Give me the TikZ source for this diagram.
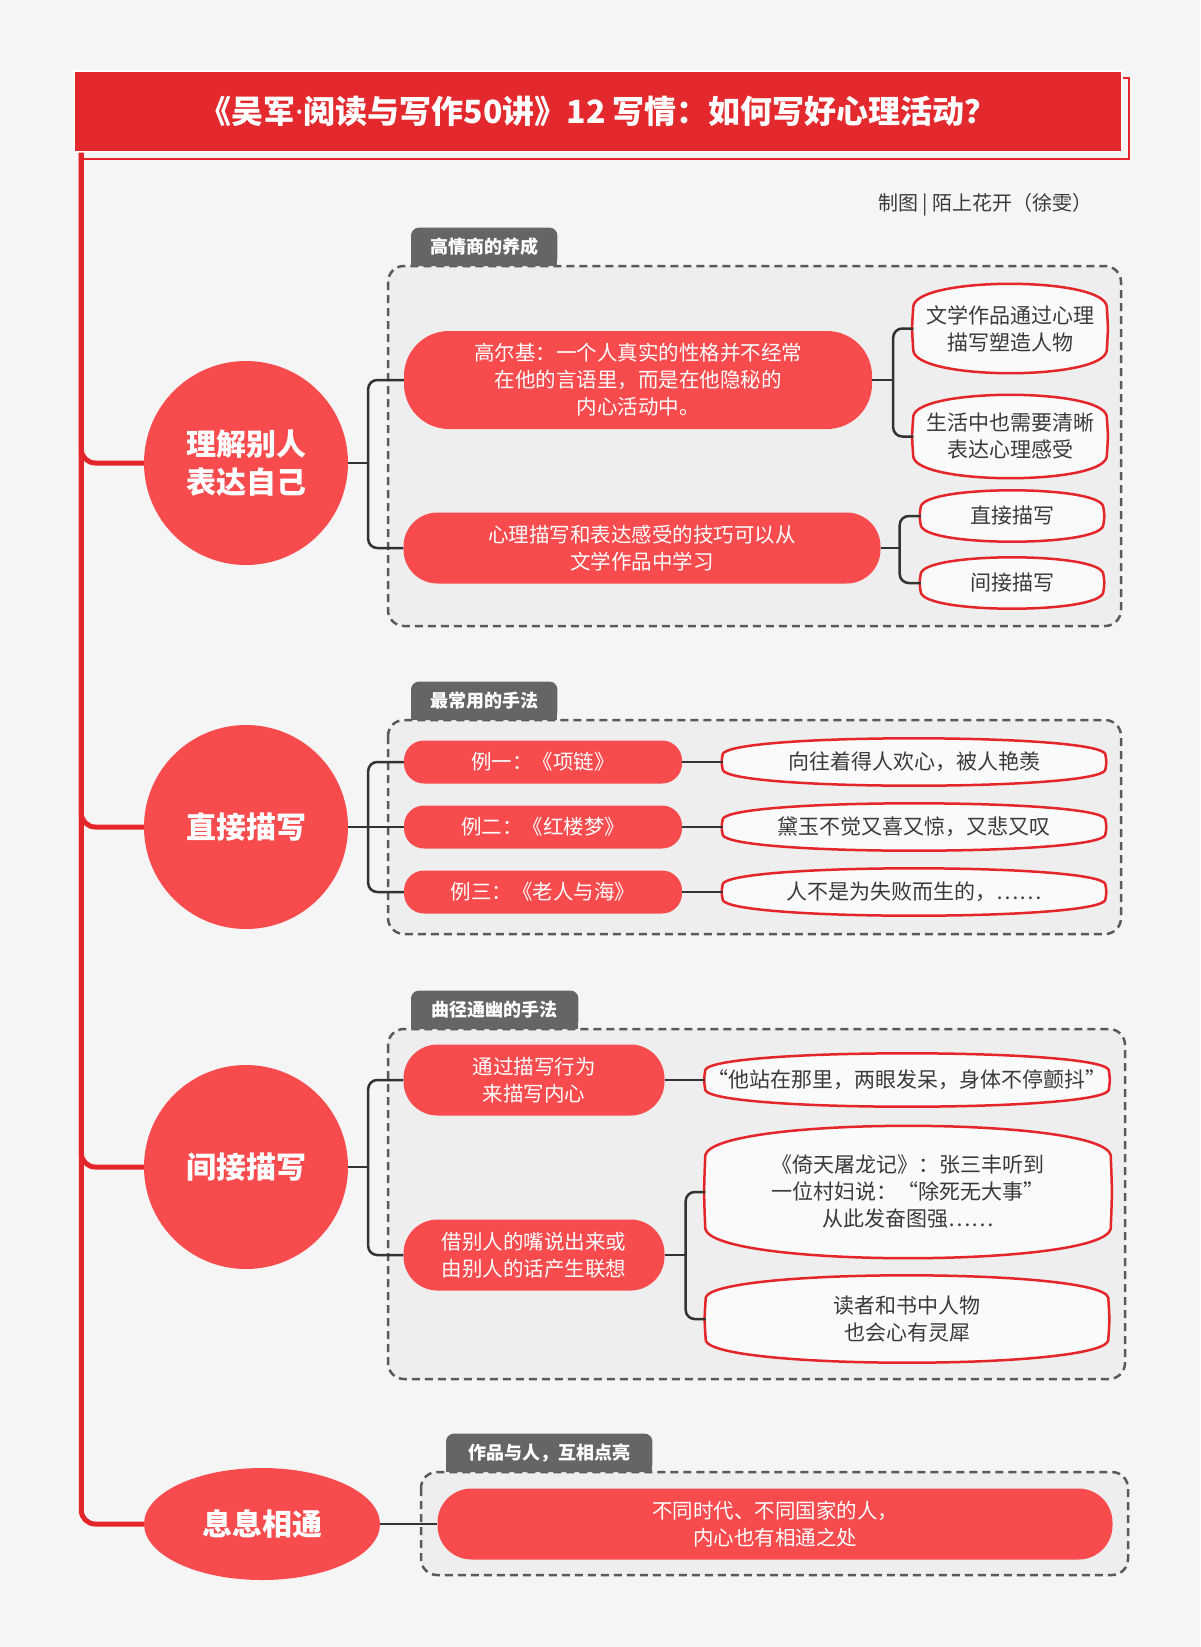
\documentclass[tikz,border=0pt]{standalone}
\usepackage{fontspec}
\setmainfont{Noto Sans CJK SC}
\newfontfamily\latinf{Noto Sans}
\usetikzlibrary{calc,shapes.geometric}
\definecolor{bgc}{HTML}{F5F5F5}
\definecolor{titlered}{HTML}{E3292D}
\definecolor{nodered}{HTML}{F84B4E}
\definecolor{linered}{HTML}{E4262B}
\definecolor{grpfill}{HTML}{EEEEEE}
\definecolor{grpline}{HTML}{5A5A5A}
\definecolor{tabfill}{HTML}{656565}
\definecolor{connc}{HTML}{333333}
\definecolor{txtc}{HTML}{3A3A3A}
\definecolor{leaffill}{HTML}{FAFAFA}
\pgfdeclarelayer{back}
\pgfdeclarelayer{mid}
\pgfsetlayers{back,mid,main}
\newcommand\fleaf{\fontsize{21}{27}\selectfont}
\newcommand\fred{\fontsize{20.5}{27}\selectfont}
\newcommand\fcirc{\fontsize{30}{38}\selectfont\bfseries}
\newcommand\ftab{\fontsize{18}{22}\selectfont\bfseries}
\newcommand\ftitle{\fontsize{32}{38}\selectfont\bfseries}
\tikzset{
  trunk/.style={draw=linered, line width=5, rounded corners=14},
  conn/.style={draw=connc, line width=2.5, rounded corners=9},
  circ/.style={circle, fill=nodered, text=white, font=\fcirc, align=center, minimum size=204, inner sep=0},
  rnode/.style={rectangle, fill=nodered, text=white, font=\fred, align=center, inner sep=0},
  leaf/.style={rectangle, text=txtc, font=\fleaf, align=center, inner sep=0},
  leafline/.style={draw=linered, fill=leaffill, line width=2.5, line join=round},
  grp/.style={draw=grpline, fill=grpfill, line width=2.5, dash pattern=on 8pt off 5pt, rounded corners=16},
  tabnode/.style={text=white, font=\ftab, minimum height=38, anchor=south west, inner sep=0}
}
\newcommand\leafshape[1]{%
\begin{pgfonlayer}{mid}
\path[leafline] let \p1=(#1.north west), \p2=(#1.south east),
  \n1={0.16*(\y1-\y2)}, \n3={0.025*(\x2-\x1)}, \n4={(0.16*(\y1-\y2)+8pt)/3} in
  (\x1,\y1-\n1-8pt)
  .. controls (\x1+\n3,\y1+\n4) and (\x2-\n3,\y1+\n4) .. (\x2,\y1-\n1-8pt)
  .. controls (\x2+1.5pt,{0.5*(\y1+\y2)}) .. (\x2,\y2+\n1+8pt)
  .. controls (\x2-\n3,\y2-\n4) and (\x1+\n3,\y2-\n4) .. (\x1,\y2+\n1+8pt)
  .. controls (\x1-1.5pt,{0.5*(\y1+\y2)}) .. cycle;
\end{pgfonlayer}}
\newcommand\tabshape[1]{%
\begin{pgfonlayer}{mid}
\fill[tabfill, rounded corners=8] (#1.south west) rectangle (#1.north east);
\fill[tabfill] (#1.south west) rectangle (#1.east);
\end{pgfonlayer}}
\begin{document}
\begin{tikzpicture}[x=1pt,y=-1pt]
\begin{pgfonlayer}{back}
\fill[bgc] (0,0) rectangle (1200,1647);
\end{pgfonlayer}
\useasboundingbox (0,0) rectangle (1200,1647);

% title
\draw[linered, line width=2] (81,78) rectangle (1129,159);
\node[fill=titlered, draw=white, line width=1.5, minimum width=1048, minimum height=81, inner sep=0,
      text=white, font=\ftitle] (title) at (598,111.5) {《吴军{\latinf ·}阅读与写作50讲》12 写情：如何写好心理活动？};
\node[anchor=east, inner sep=0, text=txtc, font=\fontsize{20}{24}\selectfont] (credit) at (1093,205) {制图 | 陌上花开（徐雯）};

% main circles
\node[circ] (c1) at (246,463) {理解别人\\表达自己};
\node[circ] (c2) at (246,827) {直接描写};
\node[circ] (c3) at (246,1167) {间接描写};
\node[ellipse, fill=nodered, text=white, font=\fcirc, minimum width=236, minimum height=112, inner sep=0] (c4) at (262,1524) {息息相通};

% trunk
\coordinate (tt) at ([xshift=8pt]title.south west);
\draw[trunk] (tt) |- (c1.west);
\draw[trunk] (tt) |- (c2.west);
\draw[trunk] (tt) |- (c3.west);
\draw[trunk] (tt) |- (c4.west);

% ---------- group 1 ----------
\begin{pgfonlayer}{back}
\draw[grp] (388,266) rectangle (1121,626);
\end{pgfonlayer}
\node[tabnode, minimum width=146] (t1) at (411,266) {高情商的养成};
\tabshape{t1}
\node[rnode, minimum width=468, minimum height=98, rounded corners=45] (a1) at (638,380)
  {高尔基：一个人真实的性格并不经常\\在他的言语里，而是在他隐秘的\\内心活动中。};
\node[rnode, minimum width=477, minimum height=71, rounded corners=34] (a2) at (642,548)
  {心理描写和表达感受的技巧可以从\\文学作品中学习};
\node[leaf, minimum width=193, minimum height=89] (l1) at (1010,328.5) {文学作品通过心理\\描写塑造人物};
\node[leaf, minimum width=193, minimum height=83] (l2) at (1010,436.5) {生活中也需要清晰\\表达心理感受};
\node[leaf, minimum width=182, minimum height=51] (l3) at (1012,516) {直接描写};
\node[leaf, minimum width=182, minimum height=51] (l4) at (1012,583) {间接描写};
\leafshape{l1}\leafshape{l2}\leafshape{l3}\leafshape{l4}
\coordinate (j1) at ([xshift=20pt]c1.east);
\draw[conn] (c1.east) -- (j1);
\draw[conn] (j1) |- (a1.west);
\draw[conn] (j1) |- (a2.west);
\coordinate (ja1) at ([xshift=21pt]a1.east);
\draw[conn] (a1.east) -- (ja1);
\draw[conn] (ja1) |- (l1.west);
\draw[conn] (ja1) |- (l2.west);
\coordinate (ja2) at ([xshift=19pt]a2.east);
\draw[conn] (a2.east) -- (ja2);
\draw[conn] (ja2) |- (l3.west);
\draw[conn] (ja2) |- (l4.west);

% ---------- group 2 ----------
\begin{pgfonlayer}{back}
\draw[grp] (388,720) rectangle (1121,934);
\end{pgfonlayer}
\node[tabnode, minimum width=146] (t2) at (411,720) {最常用的手法};
\tabshape{t2}
\node[rnode, minimum width=278, minimum height=43, rounded corners=20] (b1) at (543,762) {例一：《项链》};
\node[rnode, minimum width=278, minimum height=43, rounded corners=20] (b2) at (543,827) {例二：《红楼梦》};
\node[rnode, minimum width=278, minimum height=43, rounded corners=20] (b3) at (543,892) {例三：《老人与海》};
\node[leaf, minimum width=382, minimum height=47] (m1) at (914,762) {向往着得人欢心，被人艳羡};
\node[leaf, minimum width=382, minimum height=47] (m2) at (914,827) {黛玉不觉又喜又惊，又悲又叹};
\node[leaf, minimum width=382, minimum height=47] (m3) at (914,892) {人不是为失败而生的，……};
\leafshape{m1}\leafshape{m2}\leafshape{m3}
\coordinate (j2) at ([xshift=20pt]c2.east);
\draw[conn] (c2.east) -- (b2.west);
\draw[conn] (j2) |- (b1.west);
\draw[conn] (j2) |- (b3.west);
\draw[conn] (b1.east) -- (m1.west);
\draw[conn] (b2.east) -- (m2.west);
\draw[conn] (b3.east) -- (m3.west);

% ---------- group 3 ----------
\begin{pgfonlayer}{back}
\draw[grp] (388,1029) rectangle (1125,1379);
\end{pgfonlayer}
\node[tabnode, minimum width=167] (t3) at (411,1029) {曲径通幽的手法};
\tabshape{t3}
\node[rnode, minimum width=261, minimum height=71, rounded corners=34] (d1) at (534,1080) {通过描写行为\\来描写内心};
\node[rnode, minimum width=261, minimum height=71, rounded corners=34] (d2) at (534,1255) {借别人的嘴说出来或\\由别人的话产生联想};
\node[leaf, minimum width=403, minimum height=53] (n1) at (907,1080) {“他站在那里，两眼发呆，身体不停颤抖”};
\node[leaf, minimum width=405, minimum height=132] (n2) at (908,1192) {《倚天屠龙记》：张三丰听到\\一位村妇说：“除死无大事”\\从此发奋图强……};
\node[leaf, minimum width=402, minimum height=87] (n3) at (907,1319) {读者和书中人物\\也会心有灵犀};
\leafshape{n1}\leafshape{n2}\leafshape{n3}
\coordinate (j3) at ([xshift=20pt]c3.east);
\draw[conn] (c3.east) -- (j3);
\draw[conn] (j3) |- (d1.west);
\draw[conn] (j3) |- (d2.west);
\draw[conn] (d1.east) -- (n1.west);
\coordinate (jd2) at ([xshift=21pt]d2.east);
\draw[conn] (d2.east) -- (jd2);
\draw[conn] (jd2) |- (n2.west);
\draw[conn] (jd2) |- (n3.west);

% ---------- group 4 ----------
\begin{pgfonlayer}{back}
\draw[grp] (421,1472) rectangle (1128,1575);
\end{pgfonlayer}
\node[tabnode, minimum width=206] (t4) at (446,1472) {作品与人，互相点亮};
\tabshape{t4}
\node[rnode, minimum width=675, minimum height=71, rounded corners=34] (f1) at (775,1524) {不同时代、不同国家的人，\\内心也有相通之处};
\draw[conn] (c4.east) -- (f1.west);
\end{tikzpicture}
\end{document}
